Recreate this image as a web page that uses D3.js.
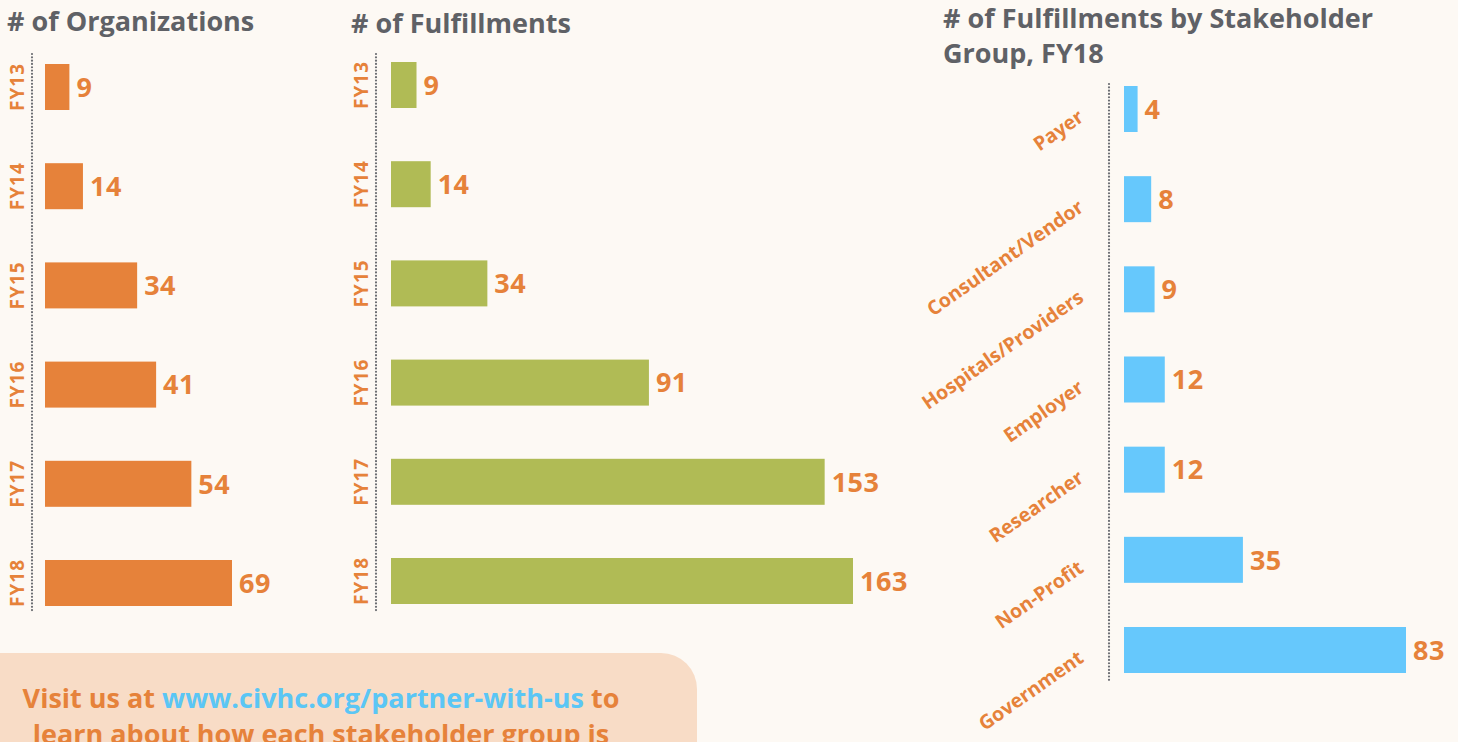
<!DOCTYPE html>
<html><head><meta charset="utf-8">
<script src="https://cdn.jsdelivr.net/npm/d3@7"></script>
<style>
html,body{margin:0;padding:0;background:#fdf9f4;overflow:hidden}
svg{display:block}
text{font-family:"Open Sans",Lato,sans-serif;font-weight:700}
</style></head><body>
<svg id="c" width="1458" height="742"></svg>
<script>
const years = ["FY13","FY14","FY15","FY16","FY17","FY18"];
const organizations = [9,14,34,41,54,69];
const fulfillments = [9,14,34,91,153,163];
const groups = ["Payer","Consultant/Vendor","Hospitals/Providers","Employer","Researcher","Non-Profit","Government"];
const groupFulfillments = [4,8,9,12,12,35,83];
const titles = ["# of Organizations","# of Fulfillments",["# of Fulfillments by Stakeholder","Group, FY18"]];

const ORANGE="#e6823a", GREEN="#b0bb55", BLUE="#66c8fc", GRAY="#5f6166";
const svg=d3.select("#c");

// bottom note box
svg.append("rect").attr("x",-60).attr("y",653).attr("width",757).attr("height",200)
  .attr("rx",36).attr("fill","#f8dcc6");
const note=svg.append("text").attr("font-size",27).attr("text-anchor","middle");
const l1=note.append("tspan").attr("x",321).attr("y",708);
l1.append("tspan").attr("fill",ORANGE).text("Visit us at ");
l1.append("tspan").attr("fill","#5bc6f5").text("www.civhc.org/partner-with-us");
l1.append("tspan").attr("fill",ORANGE).text(" to");
note.append("tspan").attr("x",321).attr("y",744).attr("fill",ORANGE).text("learn about how each stakeholder group is");

function dotted(x,y1,y2){
  svg.append("line").attr("x1",x).attr("x2",x).attr("y1",y1).attr("y2",y2)
    .attr("stroke","#6b6d72").attr("stroke-width",2.2).attr("stroke-linecap","round")
    .attr("stroke-dasharray","0.01,3.3");
}

function barChart(o){
  const y=d3.scalePoint().domain(o.cats).range(o.yr);
  const x=d3.scaleLinear().domain([0,d3.max(o.vals)]).range(o.xr);
  const g=svg.append("g");
  dotted(o.axisX,o.ay[0],o.ay[1]);
  const data=o.cats.map((c,i)=>({c,v:o.vals[i]}));
  g.selectAll("rect.bar").data(data).join("rect").attr("class","bar")
    .attr("x",x(0)).attr("y",d=>y(d.c)-23).attr("height",46)
    .attr("width",d=>x(d.v)-x(0)).attr("fill",o.color);
  g.selectAll("text.val").data(data).join("text").attr("class","val")
    .attr("x",d=>x(d.v)+7).attr("y",d=>y(d.c)).attr("dy","0.36em")
    .attr("font-size",27).attr("fill",ORANGE).attr("letter-spacing",0.5).text(d=>d.v);
  return {x,y,g,data};
}

// titles
svg.append("text").attr("x",7).attr("y",31).attr("font-size",27).attr("fill",GRAY).text(titles[0]);
svg.append("text").attr("x",351).attr("y",33).attr("font-size",27).attr("fill",GRAY).text(titles[1]);
svg.append("text").attr("x",943).attr("y",28).attr("font-size",27).attr("fill",GRAY).text(titles[2][0]);
svg.append("text").attr("x",943).attr("y",63).attr("font-size",27).attr("fill",GRAY).text(titles[2][1]);

const c1=barChart({cats:years,vals:organizations,yr:[87,583],xr:[45,232],color:ORANGE,axisX:32,ay:[54,611]});
const c2=barChart({cats:years,vals:fulfillments,yr:[85,581],xr:[391,853],color:GREEN,axisX:376,ay:[54,611]});
const c3=barChart({cats:groups,vals:groupFulfillments,yr:[109,650],xr:[1124,1406],color:BLUE,axisX:1109,ay:[84,683]});

// rotated year labels
[[c1,17],[c2,361]].forEach(([c,lx])=>{
  c.g.selectAll("text.yr").data(years).join("text").attr("class","yr")
    .attr("transform",d=>`translate(${lx},${c.y(d)}) rotate(-90)`)
    .attr("text-anchor","middle").attr("dy","0.36em")
    .attr("font-size",19).attr("fill",ORANGE).attr("letter-spacing",1).text(d=>d);
});
// slanted group labels
c3.g.selectAll("text.grp").data(groups).join("text").attr("class","grp")
  .attr("transform",d=>`translate(1085,${c3.y(d)+11}) rotate(-35)`)
  .attr("text-anchor","end").attr("font-size",19.5).attr("fill",ORANGE).text(d=>d);
</script></body></html>
